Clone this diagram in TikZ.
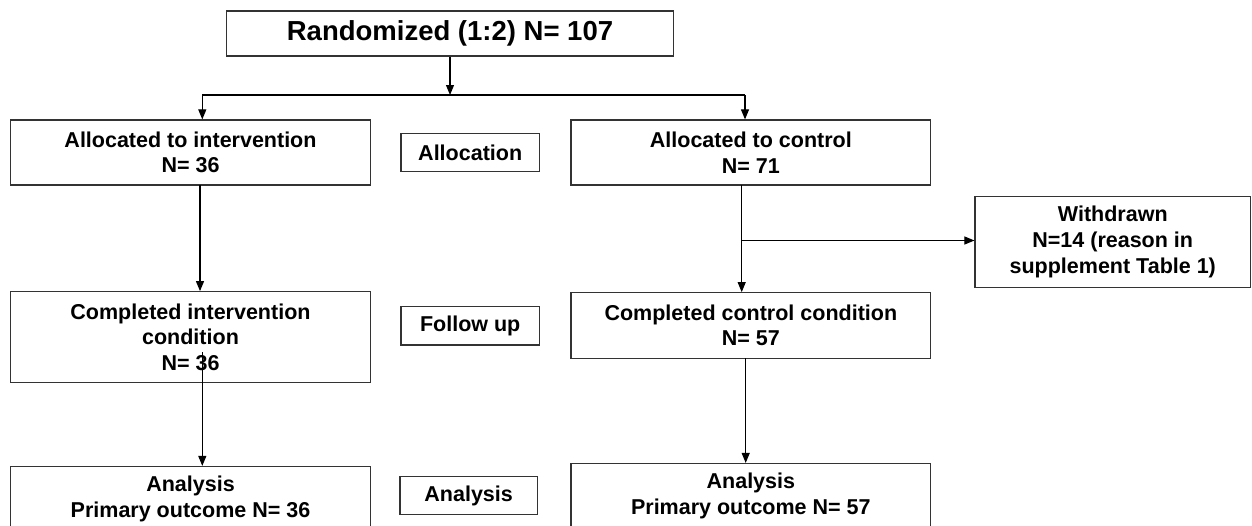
\documentclass[tikz,border=0pt]{standalone}
\usepackage{fontspec}
\setmainfont{Liberation Sans}
\usetikzlibrary{arrows.meta}
\begin{document}
\begin{tikzpicture}[x=1pt,y=-1pt,
  box/.style={draw=black!80,line width=1.2pt,rectangle,inner sep=0pt,align=center,
    font=\fontsize{21.5}{25.5}\selectfont\bfseries},
  arr/.style={line width=1.1pt,-{Triangle[length=10pt,width=8pt]}},
  conn/.style={line width=1.1pt}]
\clip (0,0) rectangle (1252,525);
\fill[white] (0,0) rectangle (1252,525);
% boxes
\node[box,minimum width=446.6pt,minimum height=45pt,font=\fontsize{27.5}{30}\selectfont\bfseries] (top) at (450,33.5) {Randomized (1:2) N= 107};
\node[box,minimum width=359.6pt,minimum height=65pt] (la) at (190.5,152.5) {Allocated to intervention\\N= 36};
\node[box,minimum width=138.3pt,minimum height=38.4pt] (alloc) at (470.2,152.5) {Allocation};
\node[box,minimum width=359.7pt,minimum height=65pt] (ra) at (750.85,152.5) {Allocated to control\\N= 71};
\node[box,minimum width=275.5pt,minimum height=90.8pt,font=\fontsize{21.5}{26}\selectfont\bfseries] (wd) at (1112.75,242.1) {Withdrawn\\N=14 (reason in\\supplement Table 1)};
\node[box,minimum width=359.6pt,minimum height=90.6pt] (ci) at (190.5,337) {Completed intervention\\condition\\N= 36};
\node[box,minimum width=138.3pt,minimum height=38.3pt] (fu) at (470.2,325.85) {Follow up};
\node[box,minimum width=359.7pt,minimum height=65.6pt] (cc) at (750.85,325.5) {Completed control condition\\N= 57};
\node[box,minimum width=359.6pt,minimum height=65pt] (al) at (190.5,499) {Analysis\\Primary outcome N= 36};
\node[box,minimum width=137.3pt,minimum height=37.6pt] (am) at (468.65,495.5) {Analysis};
\node[box,minimum width=359.7pt,minimum height=65pt] (ar) at (750.85,496) {Analysis\\Primary outcome N= 57};
% connectors
\coordinate (split) at (450,95);
\coordinate (bl) at (202.3,95);
\coordinate (br) at (745,95);
\draw[arr] (top.south) -- (split);
\draw[conn] (bl) -- (br);
\draw[arr] (bl) -- (bl |- la.north);
\draw[arr] (br) -- (br |- ra.north);
\coordinate (l1) at (200,185);
\draw[arr] (l1) -- (l1 |- ci.north);
\coordinate (l2) at (202.3,352);
\draw[arr] (l2) -- (l2 |- al.north);
\coordinate (r1) at (741.7,185);
\coordinate (rb) at (741.7,240.5);
\draw[arr] (r1) -- (r1 |- cc.north);
\draw[arr] (rb) -- (rb -| wd.west);
\coordinate (r2) at (745.7,358.3);
\draw[arr] (r2) -- (r2 |- ar.north);
\end{tikzpicture}
\end{document}
